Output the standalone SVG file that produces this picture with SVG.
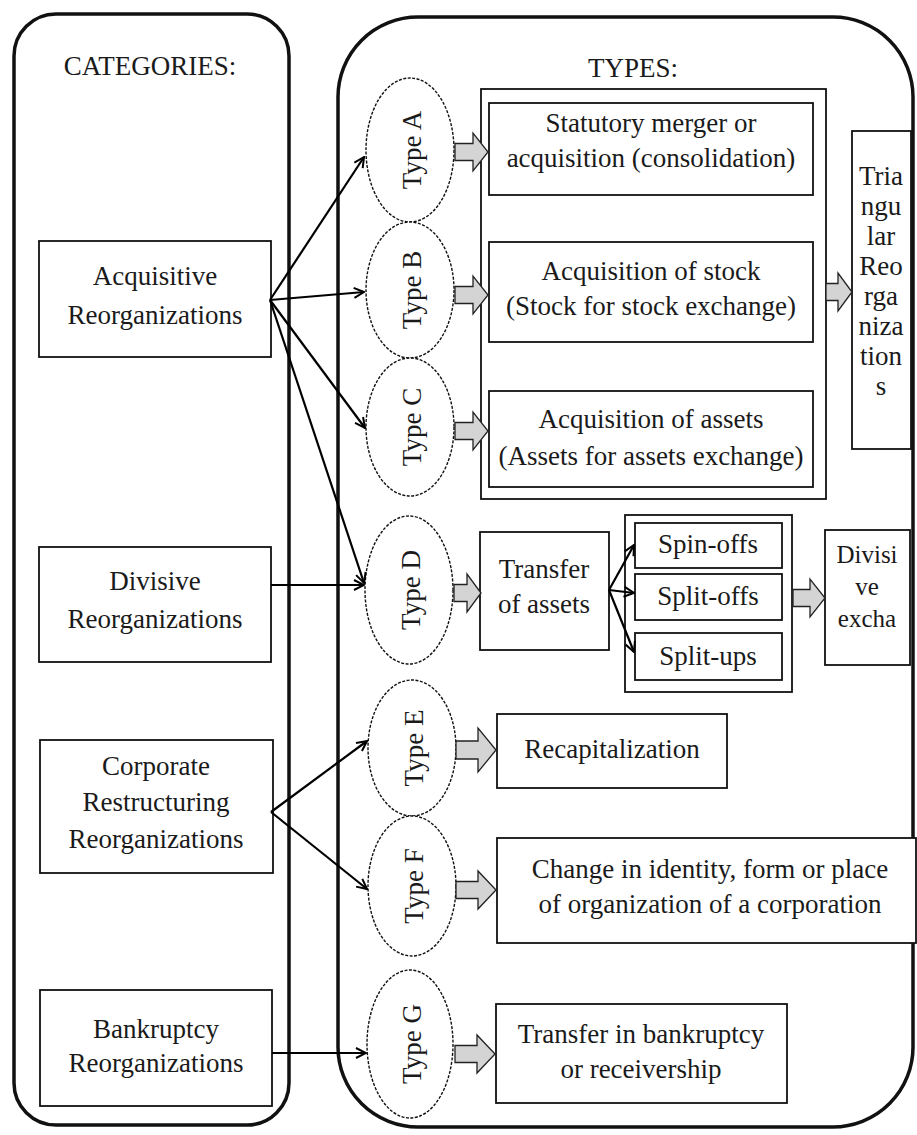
<svg xmlns="http://www.w3.org/2000/svg" width="917" height="1135" viewBox="0 0 917 1135">
<style>
text{font-family:"Liberation Serif","Times New Roman",serif;font-size:27px;fill:#1a1a1a;text-anchor:middle}
.panel{fill:none;stroke:#111;stroke-width:3.5}
.box{fill:#fff;stroke:#111;stroke-width:1.8}
.obox{fill:none;stroke:#111;stroke-width:1.8}
.ell{fill:#fff;stroke:#111;stroke-width:1.4;stroke-dasharray:3 1.5}
.ga{fill:#d4d4d4;stroke:#222;stroke-width:1.3}
.con{fill:none;stroke:#000;stroke-width:2.2}
.sm{font-size:25px}
</style>
<defs>
<marker id="ah" viewBox="0 0 12 12" refX="11" refY="6" markerWidth="12" markerHeight="12" markerUnits="userSpaceOnUse" orient="auto"><path d="M1,1 L11,6 L1,11" fill="none" stroke="#000" stroke-width="2"/></marker>
</defs>
<rect width="917" height="1135" fill="#fff"/>
<g id="panel-categories">
<rect class="panel" x="14" y="14" width="275" height="1111" rx="42" ry="42"/>
<text x="150" y="75">CATEGORIES:</text>
</g>
<g id="panel-types">
<rect class="panel" x="338" y="17" width="575" height="1110" rx="80" ry="80"/>
<text x="633" y="77">TYPES:</text>
</g>
<g id="group-abc"><rect class="obox" x="481" y="89" width="345" height="410"/></g>
<g id="group-splits"><rect class="obox" x="625" y="515" width="167" height="177"/></g>
<g id="cat-acquisitive"><rect class="box" x="39" y="241" width="232" height="116"/><text x="155" y="285">Acquisitive</text><text x="155" y="324">Reorganizations</text></g>
<g id="cat-divisive"><rect class="box" x="39" y="547" width="232" height="115"/><text x="155" y="590">Divisive</text><text x="155" y="628">Reorganizations</text></g>
<g id="cat-corporate"><rect class="box" x="40" y="740" width="233" height="133"/><text x="156" y="775">Corporate</text><text x="156" y="811">Restructuring</text><text x="156" y="848">Reorganizations</text></g>
<g id="cat-bankruptcy"><rect class="box" x="40" y="990" width="232" height="116"/><text x="156" y="1038">Bankruptcy</text><text x="156" y="1072">Reorganizations</text></g>
<g id="type-a"><ellipse class="ell" cx="410" cy="150" rx="44" ry="72"/><text transform="translate(421,150) rotate(-90)">Type A</text></g>
<g id="type-b"><ellipse class="ell" cx="410" cy="290" rx="44" ry="68"/><text transform="translate(421,290) rotate(-90)">Type B</text></g>
<g id="type-c"><ellipse class="ell" cx="410" cy="427" rx="44" ry="69"/><text transform="translate(421,427) rotate(-90)">Type C</text></g>
<g id="type-d"><ellipse class="ell" cx="409" cy="590" rx="44" ry="74"/><text transform="translate(420,590) rotate(-90)">Type D</text></g>
<g id="type-e"><ellipse class="ell" cx="412" cy="748" rx="44" ry="68"/><text transform="translate(423,748) rotate(-90)">Type E</text></g>
<g id="type-f"><ellipse class="ell" cx="412" cy="886" rx="44" ry="70"/><text transform="translate(423,886) rotate(-90)">Type F</text></g>
<g id="type-g"><ellipse class="ell" cx="410" cy="1044" rx="43" ry="74"/><text transform="translate(421,1044) rotate(-90)">Type G</text></g>
<g id="res-a"><rect class="box" x="489" y="103" width="324" height="92"/><text x="651" y="132">Statutory merger or</text><text x="651" y="167">acquisition (consolidation)</text></g>
<g id="res-b"><rect class="box" x="489" y="242" width="324" height="100"/><text x="651" y="280">Acquisition of stock</text><text x="651" y="315">(Stock for stock exchange)</text></g>
<g id="res-c"><rect class="box" x="489" y="391" width="324" height="96"/><text x="651" y="428">Acquisition of assets</text><text x="651" y="465">(Assets for assets exchange)</text></g>
<g id="res-triangular"><rect class="box" x="852" y="131" width="59" height="318"/>
<text x="881" y="185">Tria</text><text x="881" y="215">ngu</text><text x="881" y="245">lar</text><text x="881" y="275">Reo</text><text x="881" y="305">rga</text><text x="881" y="335">niza</text><text x="881" y="365">tion</text><text x="881" y="395">s</text></g>
<g id="res-transfer"><rect class="box" x="480" y="532" width="129" height="118"/><text x="544" y="578">Transfer</text><text x="544" y="613">of assets</text></g>
<g id="res-spinoffs"><rect class="box" x="635" y="523" width="147" height="45"/><text x="708" y="553">Spin-offs</text></g>
<g id="res-splitoffs"><rect class="box" x="635" y="574" width="147" height="46"/><text x="708" y="605">Split-offs</text></g>
<g id="res-splitups"><rect class="box" x="635" y="633" width="147" height="47"/><text x="708" y="665">Split-ups</text></g>
<g id="res-divisive"><rect class="box" x="825" y="530" width="85" height="135"/><text class="sm" x="867" y="563">Divisi</text><text class="sm" x="867" y="595">ve</text><text class="sm" x="867" y="627">excha</text></g>
<g id="res-recap"><rect class="box" x="497" y="714" width="230" height="74"/><text x="612" y="758">Recapitalization</text></g>
<g id="res-change"><rect class="box" x="497" y="838" width="419" height="105"/><text x="710" y="878">Change in identity, form or place</text><text x="710" y="913">of organization of a corporation</text></g>
<g id="res-bankruptcy"><rect class="box" x="496" y="1004" width="291" height="99"/><text x="641" y="1043">Transfer in bankruptcy</text><text x="641" y="1078">or receivership</text></g>
<g id="connectors">
<path class="con" marker-end="url(#ah)" d="M270,300 L364,157"/>
<path class="con" marker-end="url(#ah)" d="M270,300 L364,292"/>
<path class="con" marker-end="url(#ah)" d="M270,300 L365,428"/>
<path class="con" marker-end="url(#ah)" d="M270,300 L364,583"/>
<path class="con" marker-end="url(#ah)" d="M271,585 L364,585"/>
<path class="con" marker-end="url(#ah)" d="M271,812 L367,741"/>
<path class="con" marker-end="url(#ah)" d="M271,812 L367,889"/>
<path class="con" marker-end="url(#ah)" d="M272,1053 L366,1053"/>
<path class="con" marker-end="url(#ah)" d="M609,590 L634,545"/>
<path class="con" marker-end="url(#ah)" d="M609,590 L634,593"/>
<path class="con" marker-end="url(#ah)" d="M609,590 L634,652"/>
<path class="ga" d="M455,143.5 H473 V133 L488,152 L473,171 V160.5 H455 Z"/>
<path class="ga" d="M455,286.5 H473 V276 L488,295 L473,314 V303.5 H455 Z"/>
<path class="ga" d="M455,422.5 H473 V412 L488,431 L473,450 V439.5 H455 Z"/>
<path class="ga" d="M826,283.5 H838 V273 L852,292 L838,311 V300.5 H826 Z"/>
<path class="ga" d="M454,584.5 H467 V574 L481,593 L467,612 V601.5 H454 Z"/>
<path class="ga" d="M793,589.5 H810 V579 L825,598 L810,617 V606.5 H793 Z"/>
<path class="ga" d="M456,741 H478 V728 L496,750 L478,772 V759 H456 Z"/>
<path class="ga" d="M456,881.5 H478 V871 L496,890 L478,909 V898.5 H456 Z"/>
<path class="ga" d="M455,1045.5 H477 V1035 L495,1054 L477,1073 V1062.5 H455 Z"/>
</g>
</svg>
